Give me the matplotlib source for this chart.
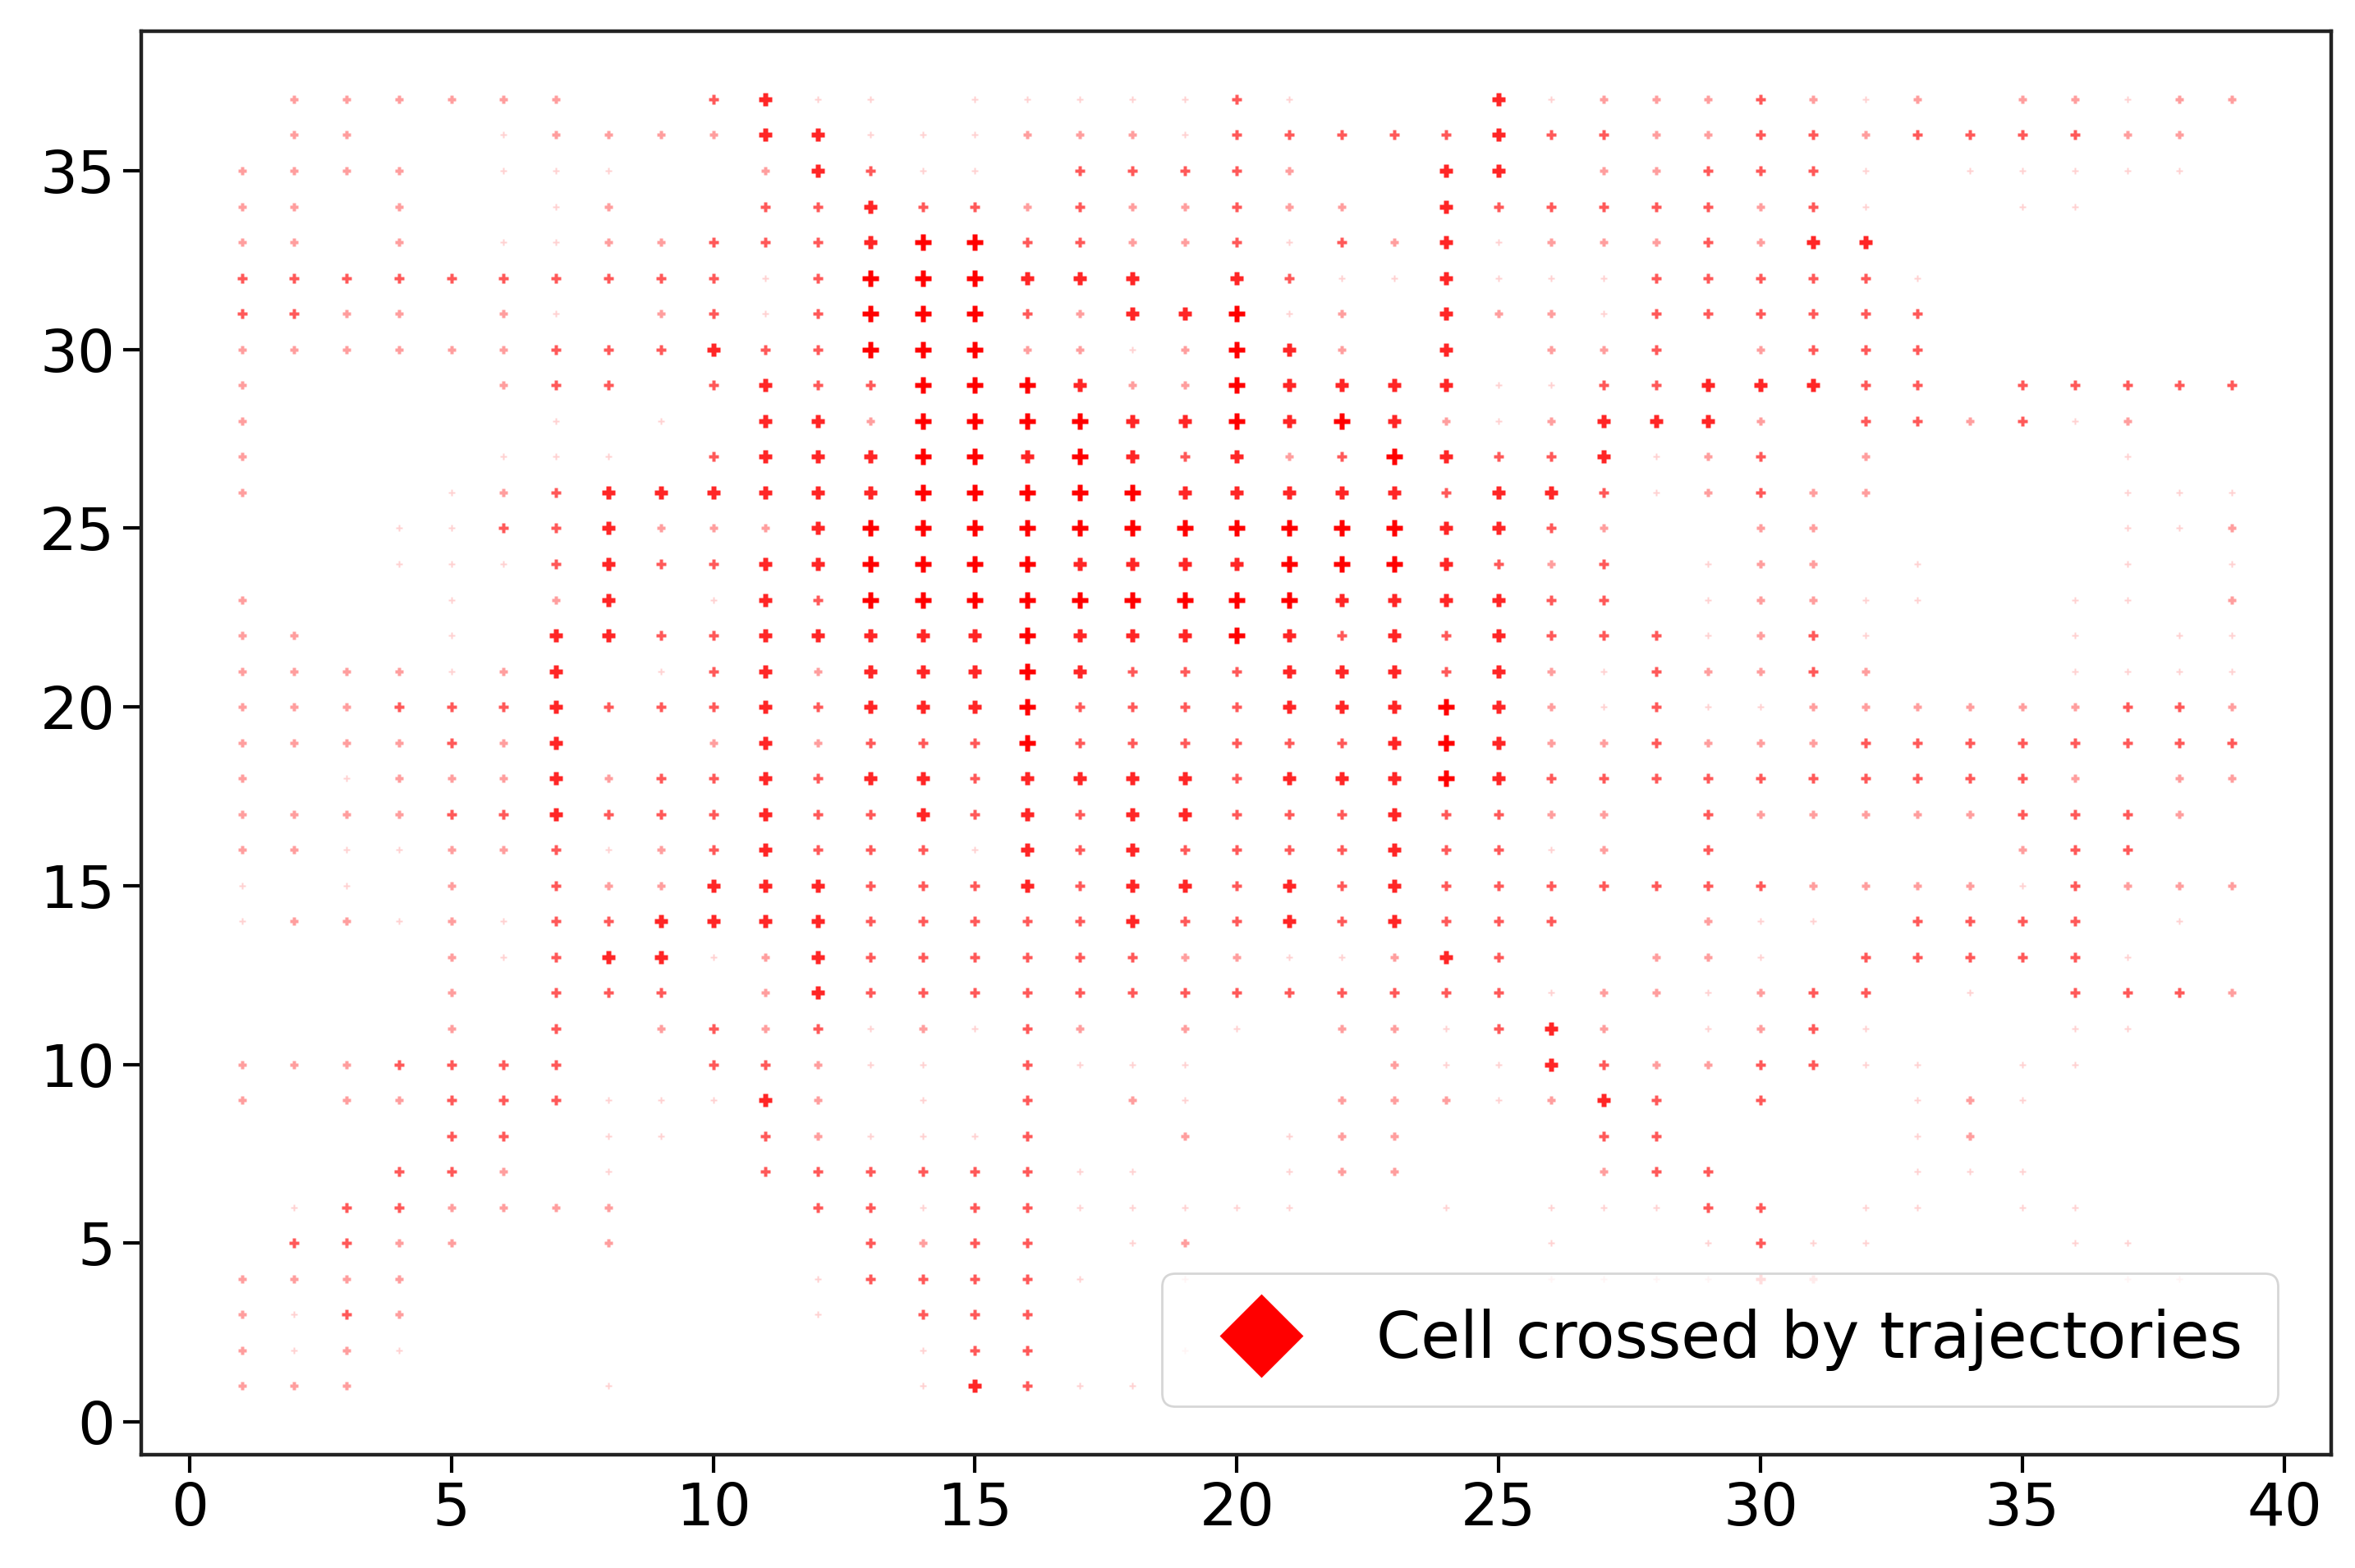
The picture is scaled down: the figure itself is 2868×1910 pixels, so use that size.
import numpy as np
import matplotlib
matplotlib.use("Agg")
import matplotlib.pyplot as plt

# intensity level per cell (0 = not crossed); x=1..20 part and x=21..39 part per row y
rows = {
37: ("02222220034110111113", "1000412223212022122"),
36: ("02200122224411122213", "3333433223323333220"),
35: ("22220111002431103333", "2004402233310111110"),
34: ("22020012003343323223", "2204333332310011000"),
33: ("22020112233345533223", "1324122232440000000"),
32: ("33333333331355544404", "3114111333331000000"),
31: ("33220210231355532445", "1204221333333000000"),
30: ("22222233343355522125", "4204022302333000000"),
29: ("20000233034335554225", "4444113344433033333"),
28: ("20000010104425555445", "4542124442033231200"),
27: ("20000111034445545434", "2354334123020000100"),
26: ("20001234444445555544", "4443443123220000111"),
25: ("00011334222455555555", "5554432002200000112"),
24: ("00011134334455554444", "5554323012201000101"),
23: ("20001024014355555555", "5444433012211001102"),
22: ("22001044334444454445", "4343433312310001011"),
21: ("22221240134244454333", "4443421322320001111"),
20: ("22233343334344453333", "4445421311222222332"),
19: ("22223240024233353333", "3345422322233333333"),
18: ("20122242334344344443", "4445433333333332022"),
17: ("22223343334334343443", "3343322032222233320"),
16: ("22112231234333143433", "3343312030000023300"),
15: ("10102032244433343443", "4343333333222213222"),
14: ("12212133444433333433", "4343330021103333010"),
13: ("00002134412433333322", "1124300221033333100"),
12: ("00002033302433333333", "3333312212330103332"),
11: ("00002030232312132021", "0221342012310001100"),
10: ("22233330033211031110", "0021143223311011000"),
9:  ("20223331114201030210", "0222124303001210000"),
8:  ("00003301103211130020", "1220003300001200000"),
7:  ("00033201003333331100", "1220002330001110000"),
6:  ("01332222000331331111", "1001011133011011000"),
5:  ("03322002000032330120", "0000010013110001100"),
4:  ("22220000000133331010", "0000011113200000110"),
3:  ("21320000000103330000", "0000000000000000000"),
2:  ("21210000000001330010", "0000000000000000000"),
1:  ("22200001000001431100", "0000000000000000000"),
}

ys = np.array(sorted(rows.keys()))
xs = np.arange(1, 40)
levels = np.array([[int(c) for c in (rows[y][0] + rows[y][1]).ljust(39, "0")[:39]] for y in ys])

style = {
    1: dict(ms=3.0, alpha=0.18),
    2: dict(ms=3.6, alpha=0.38),
    3: dict(ms=4.4, alpha=0.65),
    4: dict(ms=5.8, alpha=0.85),
    5: dict(ms=7.4, alpha=1.0),
}

fig = plt.figure(figsize=(14.34, 9.55), dpi=200)
ax = fig.add_axes([0.06, 0.072, 0.93, 0.908])
for lv, st in style.items():
    yy, xx = np.nonzero(levels == lv)
    ax.plot(xs[xx], ys[yy], linestyle="none", marker="P", color="red", mec="none", **st)

ax.plot([], [], "D", color="red", ms=25, label="Cell crossed by trajectories")
ax.legend(loc="lower right", fontsize=28, frameon=True, borderpad=0.55, handletextpad=0.8,
          bbox_to_anchor=(0.99, 0.012))

ax.set_xlim(-0.92, 40.9)
ax.set_ylim(-0.93, 38.9)
ax.set_xticks(range(0, 41, 5))
ax.set_yticks(range(0, 36, 5))
ax.tick_params(labelsize=26, width=1.5, length=8)
for s in ax.spines.values():
    s.set_linewidth(1.6)
    s.set_color("#222222")
fig.savefig("out.png", dpi=200)
